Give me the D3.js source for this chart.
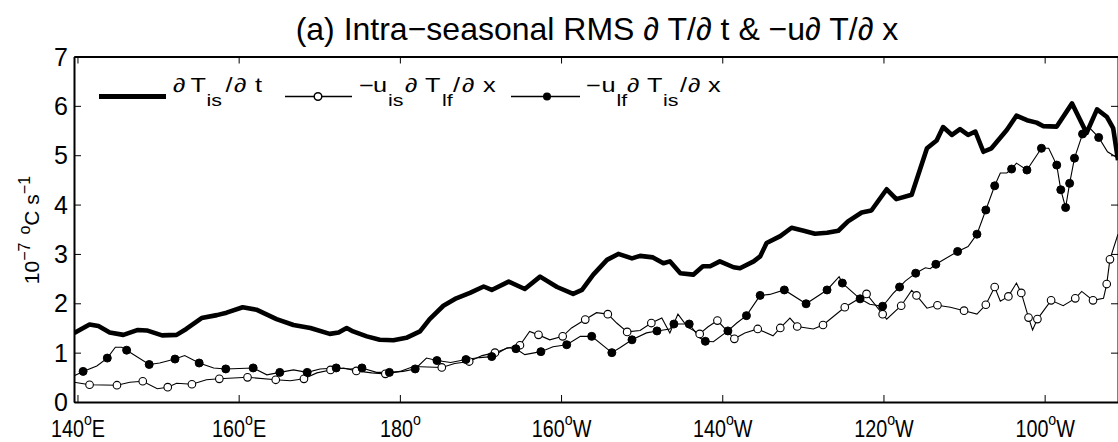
<!DOCTYPE html>
<html><head><meta charset="utf-8">
<script src="https://cdn.jsdelivr.net/npm/d3@7"></script>
<style>
html,body{margin:0;padding:0;background:#fff;}
svg{display:block;font-family:"Liberation Sans",Arial,Helvetica,sans-serif;}
</style></head>
<body>
<svg id="chart" width="1118" height="442"></svg>
<script>
// ---------- data ----------
const xTickValues = [140,160,180,200,220,240,260];
const xTickLabels = ["140","160","180","160","140","120","100"];
const xTickHemi   = ["E","E","","W","W","W","W"];
const yTickValues = [0,1,2,3,4,5,6,7];

// dT_is/dt (thick line)
const lonT = [139.6,141.5,142.6,144.0,145.7,147.5,148.6,150.5,152.3,153.5,155.4,157.3,158.5,160.5,162.2,164.7,166.8,168.9,171.3,172.4,173.4,174.2,175.9,177.5,179.2,180.8,182.5,183.7,185.4,187.0,188.7,190.4,191.4,193.5,195.5,197.4,199.5,201.5,202.6,204.0,205.7,207.1,208.8,209.8,211.4,212.7,213.5,214.8,216.4,217.6,218.5,219.7,221.4,222.2,223.9,224.7,225.5,227.2,228.6,230.1,231.5,233.0,234.4,235.6,237.3,238.5,240.4,241.6,243.5,245.4,246.6,247.4,248.5,249.5,250.5,251.4,252.4,253.4,255.3,256.5,257.8,259.0,259.8,261.5,263.4,265.2,266.5,267.7,268.5,269.1];
const valT = [1.40,1.57,1.54,1.41,1.36,1.46,1.45,1.35,1.36,1.48,1.70,1.76,1.81,1.92,1.87,1.68,1.56,1.50,1.38,1.41,1.50,1.43,1.33,1.26,1.25,1.30,1.43,1.68,1.95,2.10,2.21,2.34,2.27,2.44,2.29,2.54,2.33,2.19,2.27,2.58,2.88,3.00,2.91,2.96,2.93,2.81,2.85,2.61,2.58,2.75,2.75,2.85,2.73,2.71,2.85,2.95,3.22,3.36,3.53,3.47,3.41,3.43,3.47,3.66,3.84,3.88,4.31,4.11,4.20,5.14,5.30,5.57,5.41,5.53,5.41,5.48,5.07,5.14,5.51,5.80,5.71,5.66,5.59,5.58,6.05,5.45,5.93,5.78,5.55,4.90];

// -u_is dT_lf/dx (open circles)
const lonH = [139.6,141.5,144.9,146.5,148.1,149.9,151.2,152.3,154.2,156.0,157.6,161.1,164.6,166.4,168.1,169.7,171.4,173.0,174.6,176.5,178.2,180.0,181.7,185.2,186.8,188.6,190.2,191.8,193.3,194.9,196.1,197.2,198.6,200.2,201.3,203.0,204.4,205.8,206.9,208.2,209.8,211.2,212.5,213.5,214.5,215.7,217.2,218.2,219.4,221.5,222.8,224.4,226.3,227.2,228.4,229.3,231.3,232.5,235.2,237.9,239.9,240.4,242.2,243.5,244.1,245.4,246.7,248.3,250.0,251.6,252.7,253.8,254.5,255.5,256.5,257.1,258.0,258.5,259.1,260.8,262.3,263.8,264.6,266.0,267.3,267.7,268.1,269.1];
const valH = [0.40,0.35,0.34,0.40,0.42,0.27,0.30,0.38,0.36,0.45,0.47,0.50,0.45,0.43,0.47,0.59,0.65,0.69,0.63,0.59,0.57,0.62,0.72,0.70,0.78,0.82,0.94,1.00,1.09,1.15,1.43,1.36,1.26,1.33,1.50,1.67,1.81,1.78,1.60,1.42,1.45,1.60,1.70,1.40,1.78,1.52,1.38,1.52,1.65,1.28,1.40,1.48,1.34,1.50,1.70,1.53,1.48,1.56,1.92,2.19,1.78,1.68,1.95,2.26,2.16,1.90,1.96,1.92,1.85,1.78,1.97,2.33,2.04,2.14,2.41,2.21,1.71,1.46,1.68,2.06,1.95,2.10,2.24,2.06,2.10,2.39,2.89,3.40];
const markH = [0,1,1,0,1,0,1,0,1,0,1,1,1,0,1,0,1,0,1,0,1,0,0,1,0,1,0,1,0,1,0,1,0,1,0,1,0,1,0,1,0,1,0,0,0,0,1,0,1,1,0,1,0,1,0,1,0,1,1,1,1,0,1,0,1,0,1,0,1,0,1,1,0,1,0,1,1,0,1,1,0,1,0,1,0,1,1,0];

// -u_lf dT_is/dx (filled circles)
const lonF = [139.6,140.7,142.4,143.7,144.7,145.5,146.1,148.9,150.2,152.1,153.3,155.1,156.9,158.4,161.8,163.5,165.1,166.8,168.5,170.1,172.1,173.8,175.3,177.1,178.7,180.4,181.9,183.3,184.6,186.3,188.2,189.9,191.4,193.3,194.4,195.5,197.5,199.0,200.7,202.4,203.8,206.3,207.3,208.8,210.6,211.9,213.5,214.0,215.9,217.2,217.9,218.9,220.7,221.8,223.0,224.7,225.9,227.7,230.4,233.0,234.5,234.9,237.1,238.3,239.9,241.2,242.0,242.7,244.0,245.2,245.8,246.5,249.2,250.5,251.6,252.7,253.8,254.5,255.3,255.9,256.5,257.8,259.6,260.5,261.5,262.0,262.6,263.1,263.7,264.7,265.6,266.7,267.8,269.1];
const valF = [0.53,0.62,0.73,0.89,1.11,1.11,1.05,0.76,0.79,0.87,0.94,0.79,0.69,0.67,0.69,0.55,0.60,0.65,0.60,0.67,0.69,0.67,0.69,0.60,0.60,0.62,0.67,0.89,0.84,0.80,0.86,0.90,0.92,1.10,1.08,0.96,1.02,1.12,1.16,1.33,1.33,1.00,1.10,1.26,1.40,1.44,1.48,1.58,1.58,1.30,1.23,1.22,1.44,1.60,1.75,2.16,2.18,2.27,1.99,2.27,2.54,2.41,2.09,1.98,1.94,2.20,2.33,2.45,2.61,2.72,2.70,2.79,3.05,3.15,3.40,3.89,4.38,4.64,4.64,4.72,4.84,4.70,5.14,5.14,4.80,4.30,3.94,4.43,4.94,5.43,5.55,5.36,5.07,4.94];
const markF = [0,1,0,1,0,0,1,1,0,1,0,1,0,1,1,0,1,0,1,0,1,0,1,0,1,0,1,0,1,0,1,0,1,0,1,0,1,0,1,0,1,1,0,1,0,1,0,1,1,0,1,0,1,0,1,1,0,1,1,1,0,1,1,0,1,0,1,0,1,0,0,1,1,0,1,1,1,0,0,1,0,1,1,0,1,1,1,1,1,1,0,1,0,0];

// ---------- layout ----------
const svg = d3.select("#chart");
const x = d3.scaleLinear().domain([139.57, 269.1]).range([74, 1118]);
const y = d3.scaleLinear().domain([0, 7]).range([402, 56.5]);
const X0 = x.range()[0], X1 = x.range()[1], Y0 = y.range()[0], Y1 = y.range()[1];
const FONT = "Liberation Sans, Arial, sans-serif";

svg.append("rect").attr("width",1118).attr("height",442).attr("fill","#fff");
svg.append("defs").append("clipPath").attr("id","clip")
  .append("rect").attr("x",X0).attr("y",Y1).attr("width",X1-X0).attr("height",Y0-Y1);

// title
svg.append("text").attr("x",597).attr("y",40).attr("text-anchor","middle")
  .attr("font-size",32).text("(a) Intra\u2212seasonal RMS \u2202 T/\u2202 t & \u2212u\u2202 T/\u2202 x");

// axes
function styleAxis(g){
  g.select(".domain").attr("stroke","#000").attr("stroke-width",2);
  g.selectAll(".tick line").attr("stroke","#000").attr("stroke-width",1);
}
const gx = svg.append("g").attr("transform",`translate(0,${Y0})`)
  .call(d3.axisBottom(x).tickValues(xTickValues).tickSizeInner(-7).tickSizeOuter(0).tickFormat(""));
styleAxis(gx);
gx.selectAll(".tick text").each(function(d,i){
  const t = d3.select(this);
  t.text(null).attr("y",35).attr("dy",null).attr("font-size",23).attr("fill","#000")
   .attr("font-family",FONT).attr("transform","scale(0.86,1)");
  t.append("tspan").text(xTickLabels[i]);
  t.append("tspan").attr("dy",-12).attr("font-size",16.5).text("o");
  t.append("tspan").attr("dy",12).text(xTickHemi[i]);
});
const gxt = svg.append("g").attr("transform",`translate(0,${Y1})`)
  .call(d3.axisTop(x).tickValues(xTickValues).tickSizeInner(-7).tickSizeOuter(0).tickFormat(""));
styleAxis(gxt);

const gy = svg.append("g").attr("transform",`translate(${X0},0)`)
  .call(d3.axisLeft(y).tickValues(yTickValues).tickSizeInner(-7).tickSizeOuter(0).tickPadding(6).tickFormat(d3.format("d")));
styleAxis(gy);
gy.selectAll(".tick text").attr("font-size",25).attr("fill","#000").attr("dy","0.34em").attr("font-family",FONT);
const gyr = svg.append("g").attr("transform",`translate(${X1},0)`)
  .call(d3.axisRight(y).tickValues(yTickValues).tickSizeInner(-7).tickSizeOuter(0).tickFormat(""));
styleAxis(gyr);

// y label
const yl = svg.append("text").attr("transform",`translate(38.5,230) rotate(-90)`)
  .attr("text-anchor","middle").attr("font-size",21);
yl.append("tspan").text("10");
yl.append("tspan").attr("dy",-9).attr("font-size",16).text("\u22127");
yl.append("tspan").attr("font-size",16).text("\u2002o");
yl.append("tspan").attr("dy",9).text("C s");
yl.append("tspan").attr("dy",-9).attr("font-size",16).text("\u22121");

// series
const plot = svg.append("g").attr("clip-path","url(#clip)");
const line = d3.line().x(d=>x(d[0])).y(d=>y(d[1]));
const dT = lonT.map((l,i)=>[l,valT[i]]);
const dH = lonH.map((l,i)=>[l,valH[i],markH[i]]);
const dF = lonF.map((l,i)=>[l,valF[i],markF[i]]);

plot.append("path").datum(dH).attr("d",line).attr("fill","none").attr("stroke","#000").attr("stroke-width",1.1);
plot.append("path").datum(dF).attr("d",line).attr("fill","none").attr("stroke","#000").attr("stroke-width",1.1);
plot.append("path").datum(dT).attr("d",line).attr("fill","none").attr("stroke","#000")
  .attr("stroke-width",4.6).attr("stroke-linejoin","round");

plot.selectAll("circle.h").data(dH.filter(d=>d[2])).join("circle").attr("class","h")
  .attr("cx",d=>x(d[0])).attr("cy",d=>y(d[1])).attr("r",3.8)
  .attr("fill","#fff").attr("stroke","#000").attr("stroke-width",1.1);
plot.selectAll("circle.f").data(dF.filter(d=>d[2])).join("circle").attr("class","f")
  .attr("cx",d=>x(d[0])).attr("cy",d=>y(d[1])).attr("r",4)
  .attr("fill","#000").attr("stroke","#000").attr("stroke-width",1);

// legend
const lg = svg.append("g");
const LY = 96.5, SX = 1.3;
lg.append("line").attr("x1",99).attr("x2",166).attr("y1",LY).attr("y2",LY).attr("stroke","#000").attr("stroke-width",5);
lg.append("line").attr("x1",285).attr("x2",352).attr("y1",LY).attr("y2",LY).attr("stroke","#000").attr("stroke-width",1.5);
lg.append("circle").attr("cx",318).attr("cy",LY).attr("r",3.8).attr("fill","#fff").attr("stroke","#000").attr("stroke-width",1.5);
lg.append("line").attr("x1",511).attr("x2",580).attr("y1",LY).attr("y2",LY).attr("stroke","#000").attr("stroke-width",1.5);
lg.append("circle").attr("cx",547).attr("cy",LY).attr("r",4).attr("fill","#000");

function legText(parts){
  const x0 = parts[0][1];
  const t = lg.append("text").attr("transform",`translate(${x0},0) scale(${SX},1)`).attr("font-size",19.5);
  parts.forEach(p=>{
    t.append("tspan").attr("x",(p[1]-x0)/SX).attr("y",p[2]?105.7:92.5)
      .attr("font-size",p[2]?16.5:19.5).text(p[0]);
  });
}
legText([["\u2202",173,0],["T",190.5,0],["is",206.5,1],["/",225.5,0],["\u2202",234,0],["t",255,0]]);
legText([["\u2212",359,0],["u",373,0],["is",388,1],["\u2202",405,0],["T",425,0],["lf",442,1],["/",453,0],["\u2202",462,0],["x",483,0]]);
legText([["\u2212",586,0],["u",601.5,0],["lf",616.5,1],["\u2202",627,0],["T",647,0],["is",663,1],["/",680,0],["\u2202",688,0],["x",708,0]]);
</script>
</body></html>
